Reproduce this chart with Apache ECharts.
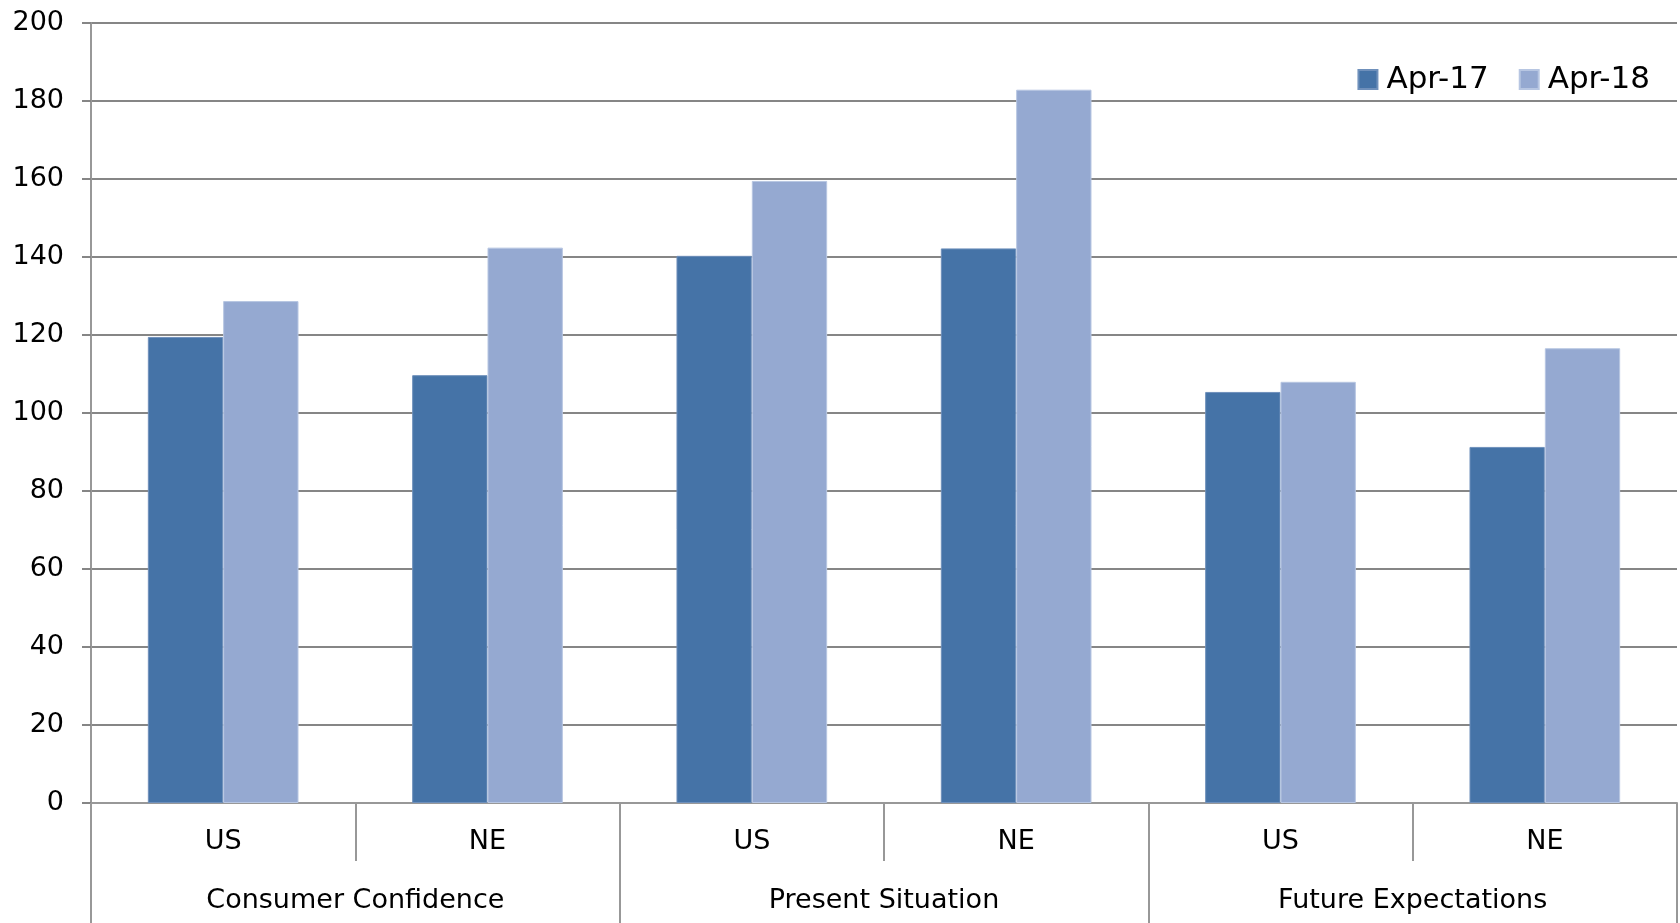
<!DOCTYPE html>
<html>
<head>
<meta charset="utf-8">
<script src="https://cdn.jsdelivr.net/npm/echarts@6/dist/echarts.min.js"></script>
<style>
  html, body { margin: 0; padding: 0; background: #ffffff; }
  #chart { width: 1680px; height: 923px; }
</style>
</head>
<body>
<div id="chart"></div>
<script>
// Consumer confidence indices, April 2017 vs April 2018, US and New England
const groups = ['Consumer Confidence', 'Present Situation', 'Future Expectations'];
const regions = ['US', 'NE', 'US', 'NE', 'US', 'NE'];
const seriesNames = ['Apr-17', 'Apr-18'];
const apr17 = [119.5, 109.7, 140.3, 142.2, 105.4, 91.3];
const apr18 = [128.7, 142.4, 159.5, 182.9, 108.0, 116.6];
const yTicks = { min: 0, max: 200, interval: 20 };

const FONT = '"DejaVu Sans", "Open Sans", sans-serif';
const GRID_GRAY = '#868686';
const AXIS_GRAY = '#989898';
const colors = ['#4573a7', '#95a9d1'];

const chart = echarts.init(document.getElementById('chart'), null, { renderer: 'canvas' });

chart.setOption({
  backgroundColor: '#ffffff',
  animation: false,
  textStyle: { fontFamily: FONT, color: '#000000' },
  grid: { left: 91, right: 3, top: 23, bottom: 120, containLabel: false },
  legend: {
    data: seriesNames,
    right: 25,
    top: 59,
    itemWidth: 19,
    itemHeight: 19,
    itemGap: 30,
    icon: 'rect',
    textStyle: { fontFamily: FONT, fontSize: 31, color: '#000000', padding: [0, 0, 0, 4] }
  },
  xAxis: [
    {
      type: 'category',
      data: regions,
      position: 'bottom',
      axisLine: { show: true, lineStyle: { color: AXIS_GRAY, width: 2 } },
      axisTick: { show: true, interval: 0, length: 58, lineStyle: { color: AXIS_GRAY, width: 2 } },
      axisLabel: { interval: 0, margin: 25, fontSize: 27, color: '#000000', fontFamily: FONT },
      splitLine: { show: false }
    },
    {
      type: 'category',
      data: groups,
      position: 'bottom',
      axisLine: { show: false },
      axisTick: { show: true, interval: 0, length: 120, lineStyle: { color: AXIS_GRAY, width: 2 } },
      axisLabel: { interval: 0, margin: 84, fontSize: 27, color: '#000000', fontFamily: FONT },
      splitLine: { show: false }
    }
  ],
  yAxis: {
    type: 'value',
    min: yTicks.min,
    max: yTicks.max,
    interval: yTicks.interval,
    axisLine: { show: true, lineStyle: { color: AXIS_GRAY, width: 2 } },
    axisTick: { show: true, length: 9, lineStyle: { color: GRID_GRAY, width: 2 } },
    axisLabel: { margin: 27, fontSize: 27, color: '#000000', fontFamily: FONT },
    splitLine: { show: true, lineStyle: { color: GRID_GRAY, width: 2 } }
  },
  series: [
    {
      name: seriesNames[0],
      type: 'bar',
      xAxisIndex: 0,
      data: apr17,
      barGap: '0%',
      barCategoryGap: '43%',
      itemStyle: { color: colors[0], borderColor: '#6f90bb', borderWidth: 1 }
    },
    {
      name: seriesNames[1],
      type: 'bar',
      xAxisIndex: 0,
      data: apr18,
      barGap: '0%',
      barCategoryGap: '43%',
      itemStyle: { color: colors[1], borderColor: '#b7c6e2', borderWidth: 1 }
    }
  ]
});
</script>
</body>
</html>
